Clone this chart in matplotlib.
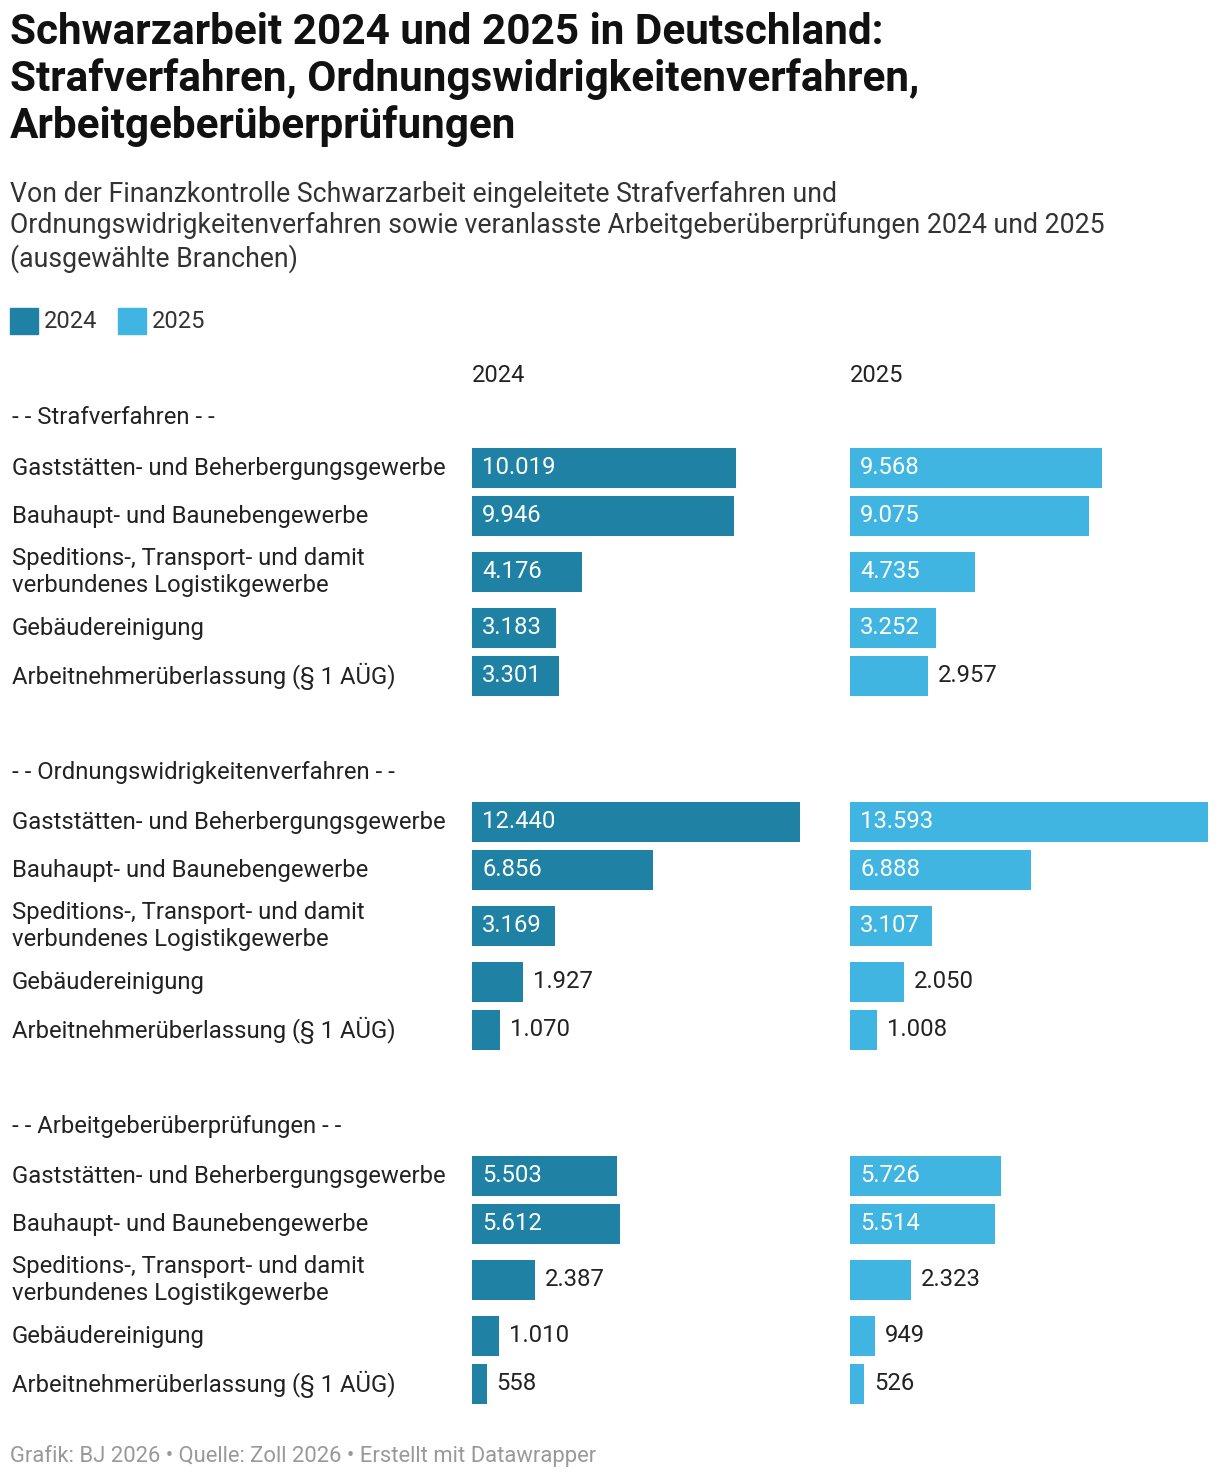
import matplotlib
matplotlib.use("Agg")
import matplotlib.pyplot as plt

plt.rcParams['font.family'] = ['Roboto', 'DejaVu Sans']

groups = ["Strafverfahren", "Ordnungswidrigkeitenverfahren", "Arbeitgeberüberprüfungen"]
branches = ["Gaststätten- und Beherbergungsgewerbe", "Bauhaupt- und Baunebengewerbe",
            "Speditions-, Transport- und damit\nverbundenes Logistikgewerbe",
            "Gebäudereinigung", "Arbeitnehmerüberlassung (§ 1 AÜG)"]
v2024 = [[10019, 9946, 4176, 3183, 3301],
         [12440, 6856, 3169, 1927, 1070],
         [5503, 5612, 2387, 1010, 558]]
v2025 = [[9568, 9075, 4735, 3252, 2957],
         [13593, 6888, 3107, 2050, 1008],
         [5726, 5514, 2323, 949, 526]]
years = ["2024", "2025"]
colors = ["#1f81a4", "#41b5e1"]

W, H = 1220, 1480
fig = plt.figure(figsize=(W/100, H/100), dpi=100)
bg = fig.add_axes([0, 0, 1, 1]); bg.set_xlim(0, W); bg.set_ylim(H, 0); bg.axis('off')

def fmt(v):
    return f"{v:,}".replace(",", ".")

bg.text(10, 12, "Schwarzarbeit 2024 und 2025 in Deutschland:\nStrafverfahren, Ordnungswidrigkeitenverfahren,\nArbeitgeberüberprüfungen",
        fontsize=30.4, fontweight='bold', va='top', ha='left', linespacing=1.15, color='#111')
bg.text(10, 181, "Von der Finanzkontrolle Schwarzarbeit eingeleitete Strafverfahren und\nOrdnungswidrigkeitenverfahren sowie veranlasste Arbeitgeberüberprüfungen 2024 und 2025\n(ausgewählte Branchen)",
        fontsize=19.2, va='top', ha='left', linespacing=1.2, color='#333')
for i, (y, c) in enumerate(zip(years, colors)):
    x0 = 10 + i*108
    bg.add_patch(plt.Rectangle((x0, 308), 28, 26, color=c))
    bg.text(x0 + 34, 321, y, fontsize=17, va='center', color='#333')
bg.text(472, 376, "2024", fontsize=17, va='center', color='#222')
bg.text(850, 376, "2025", fontsize=17, va='center', color='#222')
bg.text(10, 1456, "Grafik: BJ 2026 • Quelle: Zoll 2026 • Erstellt mit Datawrapper",
        fontsize=15.8, va='center', color='#999')

offsets = [50, 98, 154, 210, 258]
axes = []
for xs in (472, 850):
    ax = fig.add_axes([xs/W, 0, 358/W, 1])
    ax.set_xlim(0, 13593); ax.set_ylim(H, 0); ax.axis('off')
    axes.append(ax)
scale = 358/13593
for g, name in enumerate(groups):
    hy = 418 + 354*g
    bg.text(12, hy, f"- - {name} - -", fontsize=17.2, va='center', color='#222')
    for r, b in enumerate(branches):
        y = hy + offsets[r]
        bg.text(12, y, b, fontsize=17.2, va='center', color='#222', linespacing=1.2)
        for ax, vals, c in zip(axes, (v2024, v2025), colors):
            v = vals[g][r]
            ax.barh(y, v, height=40, color=c)
            if v >= 3000:
                ax.text(10/scale, y, fmt(v), color='white', fontsize=17.2, va='center')
            else:
                ax.text(v + 10/scale, y, fmt(v), color='#222', fontsize=17.2, va='center')

fig.savefig("out.png", dpi=100)
